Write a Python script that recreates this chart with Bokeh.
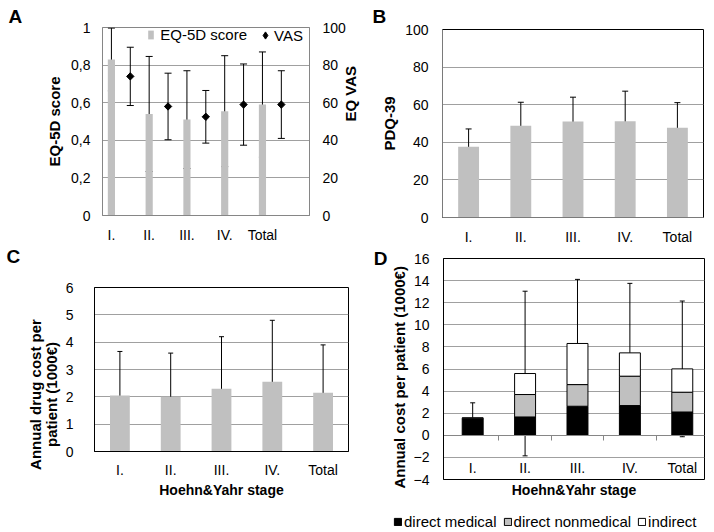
import numpy as np
from bokeh.plotting import figure
from bokeh.layouts import column, row
from bokeh.models import (ColumnDataSource, Range1d, LinearAxis, FixedTicker, Whisker, TeeHead,
                          Legend, LegendItem, Title, CustomJSTickFormatter, FactorRange)
from bokeh.embed import file_html
from bokeh.resources import INLINE

# ---------------- data ----------------
stages = ["I.", "II.", "III.", "IV.", "Total"]
eq5d = [0.83, 0.54, 0.51, 0.555, 0.59]
eq5d_sd = [0.167, 0.306, 0.26, 0.295, 0.28]
vas = [74.0, 58.0, 52.5, 59.0, 59.0]
vas_sd = [15.5, 17.7, 14.0, 21.6, 18.0]
pdq39 = [37.6, 48.8, 51.0, 51.2, 47.8]
pdq39_sd = [9.5, 12.5, 13.0, 16.0, 13.3]
drug_cost = [2.05, 2.0, 2.3, 2.55, 2.15]
drug_cost_sd = [1.61, 1.6, 1.9, 2.25, 1.75]
cost_medical = [1.5, 1.66, 2.63, 2.69, 2.11]
cost_nonmedical = [0.05, 2.03, 1.96, 2.66, 1.79]
cost_indirect = [0.03, 1.9, 3.72, 2.11, 2.11]
cost_total_sd = [1.36, 7.45, 5.8, 6.29, 6.14]
cost_series = ["direct medical", "direct nonmedical", "indirect"]

eq_ticks = [0, 0.2, 0.4, 0.6, 0.8, 1.0]
vas_ticks = [0, 20, 40, 60, 80, 100]
pdq_ticks = [0, 20, 40, 60, 80, 100]
drug_ticks = [0, 1, 2, 3, 4, 5, 6]
cost_ticks = list(range(-4, 17, 2))

FONT = "Liberation Sans"
GRID = "#a0a0a0"
BAR = "#c0c0c0"
AXG = "#868686"
NAN = float("nan")
NB = "\u00a0"  # trailing no-break spaces nudge rotated axis titles downwards


def make_fig(w, h, bl, br, bt, bb, xr, yr, outline):
    p = figure(width=w, height=h, x_range=xr, y_range=yr, output_backend="svg",
               toolbar_location=None, min_border_left=bl, min_border_right=br,
               min_border_top=bt, min_border_bottom=bb)
    p.outline_line_color = outline
    p.xgrid.grid_line_color = None
    p.ygrid.grid_line_color = GRID
    return p


def style_axis(ax, color, standoff):
    ax.axis_line_color = color
    ax.major_tick_line_color = None
    ax.minor_tick_line_color = None
    ax.major_tick_out = 0
    ax.major_tick_in = 0
    ax.minor_tick_out = 0
    ax.minor_tick_in = 0
    ax.major_label_text_font = FONT
    ax.major_label_text_font_size = "14px"
    ax.major_label_text_color = "black"
    ax.major_label_standoff = standoff


def axis_title(ax, text, size, standoff):
    ax.axis_label = text
    ax.axis_label_text_font = FONT
    ax.axis_label_text_font_size = size
    ax.axis_label_text_font_style = "bold"
    ax.axis_label_text_color = "black"
    ax.axis_label_standoff = standoff


def letter(text, offset, standoff, valign):
    return Title(text=text, align="left", offset=offset, standoff=standoff,
                 vertical_align=valign, text_font=FONT, text_font_size="19px",
                 text_font_style="bold", text_color="black")


def whisker(src, base, lo, hi, size, **kw):
    return Whisker(source=src, base=base, lower=lo, upper=hi, line_color="black", line_width=1,
                   upper_head=TeeHead(size=size, line_color="black", line_width=1),
                   lower_head=TeeHead(size=size, line_color="black", line_width=1), **kw)


def legend(items, loc, gw, gh, standoff, spacing=0):
    return Legend(items=items, location=loc, orientation="horizontal", glyph_width=gw,
                  glyph_height=gh, label_standoff=standoff, spacing=spacing, padding=0, margin=0,
                  label_height=16, label_text_font=FONT, label_text_font_size="15px",
                  label_text_color="black", border_line_color=None, background_fill_alpha=0)


# ---------------- panel A ----------------
xa = list(range(len(stages)))
srcA = ColumnDataSource(dict(
    x=xa, xv=[i + 0.5 for i in xa], eq=eq5d,
    eq_lo=[m - s for m, s in zip(eq5d, eq5d_sd)], eq_hi=[m + s for m, s in zip(eq5d, eq5d_sd)],
    vas=vas, vas_lo=[m - s for m, s in zip(vas, vas_sd)], vas_hi=[m + s for m, s in zip(vas, vas_sd)]))

pA = make_fig(370, 268, 102, 58, 27, 49, Range1d(-0.236, 5.246), Range1d(0, 1), AXG)
pA.extra_y_ranges = {"vas": Range1d(0, 100)}
barsA = pA.vbar(x="x", top="eq", width=0.19, source=srcA, fill_color=BAR, line_color=None)
pA.add_layout(whisker(srcA, "x", "eq_lo", "eq_hi", 7))
pA.add_layout(whisker(srcA, "xv", "vas_lo", "vas_hi", 7, y_range_name="vas"))
pA.scatter(x="xv", y="vas", source=srcA, y_range_name="vas", marker="square",
           angle=np.pi / 4, size=5.2, fill_color="black", line_color="black")
vas_key = pA.scatter(x=[NAN], y=[NAN], y_range_name="vas", marker="diamond",
                     fill_color="black", line_color="black")
pA.yaxis.ticker = FixedTicker(ticks=eq_ticks)
pA.yaxis.formatter = CustomJSTickFormatter(
    code="if (tick == 0) return '0'; if (tick == 1) return '1'; return tick.toFixed(1).replace('.', ',');")
style_axis(pA.yaxis[0], AXG, 12)
axis_title(pA.yaxis[0], "EQ-5D score", "15px", 5)
pA.xaxis.ticker = FixedTicker(ticks=xa)
pA.xaxis.major_label_overrides = {i: s for i, s in enumerate(stages)}
style_axis(pA.xaxis[0], AXG, 11)
axA2 = LinearAxis(y_range_name="vas", ticker=FixedTicker(ticks=vas_ticks))
style_axis(axA2, AXG, 13)
axis_title(axA2, "EQ VAS", "15px", 2)
if hasattr(axA2, "axis_label_orientation"):
    try:
        axA2.axis_label_orientation = np.pi / 2
    except Exception:
        pass
pA.add_layout(axA2, "right")
pA.add_layout(letter("A", -94, 2, "bottom"), "above")
pA.add_layout(letter("C", -96, 0, "top"), "below")
pA.add_layout(legend([LegendItem(label="EQ-5D score", renderers=[barsA])], (45.3, 172), 7, 11, 6))
pA.add_layout(legend([LegendItem(label="VAS", renderers=[vas_key])], (154, 171), 18, 18, -2))

# ---------------- panel B ----------------
srcB = ColumnDataSource(dict(x=stages, y=pdq39,
                             lo=[m - s for m, s in zip(pdq39, pdq39_sd)],
                             hi=[m + s for m, s in zip(pdq39, pdq39_sd)]))
pB = make_fig(344, 247, 72, 11, 27, 27, FactorRange(factors=stages), Range1d(0, 100), "black")
pB.vbar(x="x", top="y", width=0.4, source=srcB, fill_color=BAR, line_color=None)
pB.add_layout(whisker(srcB, "x", "lo", "hi", 6))
pB.yaxis.ticker = FixedTicker(ticks=pdq_ticks)
style_axis(pB.yaxis[0], "#7a7a7a", 14)
axis_title(pB.yaxis[0], "PDQ-39", "15px", 4)
style_axis(pB.xaxis[0], "#7a7a7a", 11)
pB.add_layout(letter("B", -70, 6, "bottom"), "above")

# ---------------- panel C ----------------
srcC = ColumnDataSource(dict(x=stages, y=drug_cost,
                             lo=[m - s for m, s in zip(drug_cost, drug_cost_sd)],
                             hi=[m + s for m, s in zip(drug_cost, drug_cost_sd)]))
pC = make_fig(370, 264, 94, 22, 19, 81, FactorRange(factors=stages), Range1d(0, 6), "black")
pC.vbar(x="x", top="y", width=0.39, source=srcC, fill_color=BAR, line_color=None)
pC.add_layout(whisker(srcC, "x", "lo", "hi", 5))
pC.yaxis.ticker = FixedTicker(ticks=drug_ticks)
style_axis(pC.yaxis[0], "black", 21)
axis_title(pC.yaxis[0], "Annual drug cost per" + NB * 12 + "\npatient (1000€)" + NB * 12, "15px", 3)
pC.yaxis[0].axis_label_text_line_height = 0.95
style_axis(pC.xaxis[0], "black", 10)
axis_title(pC.xaxis[0], "Hoehn&Yahr stage", "14px", 1)

# ---------------- panel D ----------------
cost_total = [a + b + c for a, b, c in zip(cost_medical, cost_nonmedical, cost_indirect)]
srcD = ColumnDataSource(dict(x=xa, med=cost_medical, non=cost_nonmedical, ind=cost_indirect,
                             lo=[t - s for t, s in zip(cost_total, cost_total_sd)],
                             hi=[t + s for t, s in zip(cost_total, cost_total_sd)]))
pD = make_fig(344, 265, 64, 10, 11, 33, Range1d(-0.557, 4.424), Range1d(-4, 16), "black")
rsD = pD.vbar_stack(["med", "non", "ind"], x="x", width=0.4, source=srcD,
                    fill_color=["black", BAR, "white"], line_color="black", line_width=1)
pD.add_layout(whisker(srcD, "x", "lo", "hi", 5))
pD.yaxis.ticker = FixedTicker(ticks=cost_ticks)
style_axis(pD.yaxis[0], "black", 14)
axis_title(pD.yaxis[0], "Annual cost per patient (1000€)" + NB * 4, "15px", 3)
pD.xaxis.ticker = FixedTicker(ticks=xa)
pD.xaxis.major_label_overrides = {i: s for i, s in enumerate(stages)}
style_axis(pD.xaxis[0], None, -20)
axis_title(pD.xaxis[0], "Hoehn&Yahr stage", "14px", 3)
# panel letter "D" sits beside the top tick of the cost axis
axD_letter = LinearAxis(ticker=FixedTicker(ticks=[16]), major_label_overrides={16: "D"})
style_axis(axD_letter, None, 0)
axD_letter.major_label_text_font_size = "19px"
axD_letter.major_label_text_font_style = "bold"
pD.add_layout(axD_letter, "left")
# zero line with category separators
zeroD = LinearAxis(fixed_location=0, ticker=FixedTicker(ticks=[0.5, 1.5, 2.5, 3.5]),
                   formatter=CustomJSTickFormatter(code="return '';"))
style_axis(zeroD, AXG, 0)
zeroD.major_tick_line_color = AXG
zeroD.major_tick_out = 5
zeroD.major_label_text_font_size = "1px"
pD.add_layout(zeroD, "below")

# ---------------- legend strip under panel D ----------------
pL = figure(width=344, height=20, x_range=Range1d(0, 1), y_range=Range1d(0, 1),
            output_backend="svg", toolbar_location=None, x_axis_location=None,
            y_axis_location=None, min_border_left=0, min_border_right=0,
            min_border_top=0, min_border_bottom=0)
pL.outline_line_color = None
pL.xgrid.grid_line_color = None
pL.ygrid.grid_line_color = None
keys = [pL.vbar(x=[NAN], top=[NAN], width=0.1, fill_color=c, line_color="black")
        for c in ["black", BAR, "white"]]
pL.add_layout(legend([LegendItem(label=l, renderers=[r]) for l, r in zip(cost_series, keys)],
                     (23, 2), 9, 9, 2, 6))

layout = row(column(column(pA), column(pC)),
             column(column(pB), column(pD), column(pL)))
open("out.html", "w").write(file_html(layout, INLINE))
